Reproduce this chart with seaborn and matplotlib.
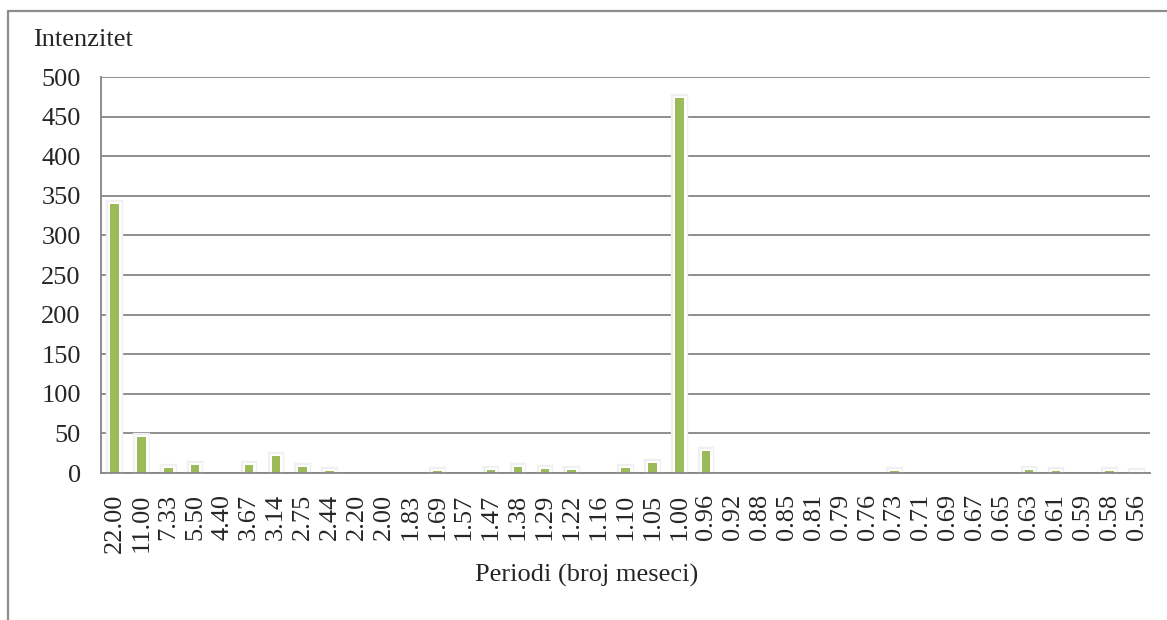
import matplotlib
matplotlib.use("Agg")
import matplotlib.pyplot as plt
import matplotlib.patheffects as pe
from matplotlib.lines import Line2D
import numpy as np
import pandas as pd
import seaborn as sns

periods = ["22.00", "11.00", "7.33", "5.50", "4.40", "3.67", "3.14", "2.75", "2.44",
           "2.20", "2.00", "1.83", "1.69", "1.57", "1.47", "1.38", "1.29", "1.22",
           "1.16", "1.10", "1.05", "1.00", "0.96", "0.92", "0.88", "0.85", "0.81",
           "0.79", "0.76", "0.73", "0.71", "0.69", "0.67", "0.65", "0.63", "0.61",
           "0.59", "0.58", "0.56"]
intensity = [340, 46, 6, 10, 0, 10.5, 21.5, 7, 2.5,
             0, 0, 0, 2, 0, 4, 7, 4.5, 4,
             0, 6, 12, 474, 28, 0, 0.3, 0.3, 0,
             0, 0.5, 2, 0, 0, 0, 0.3, 3.5, 2,
             0, 2, 1.5]
y_ticks = [0, 50, 100, 150, 200, 250, 300, 350, 400, 450, 500]

sns.set_style("white")
plt.rcParams["font.family"] = ["Liberation Serif", "DejaVu Serif"]
GRAY = "#868686"
GREEN = "#9BBB59"

df = pd.DataFrame({"period": periods, "value": intensity})

fig = plt.figure(figsize=(11.67, 6.2), dpi=100)
ax = fig.add_axes([101 / 1167, 1 - 473 / 620, 1049 / 1167, 396 / 620])

sns.barplot(data=df, x="period", y="value", order=periods, color=GREEN,
            saturation=1, width=0.32, edgecolor="none", linewidth=0, ax=ax, zorder=2)
# soft white glow around the visible bars (Excel style)
for p in ax.patches:
    if p.get_height() >= 1:
        p.set_path_effects([pe.Stroke(linewidth=6, foreground="#F0F0F0"),
                            pe.Stroke(linewidth=3.5, foreground="white"),
                            pe.Normal()])

ax.set_ylim(0, 500)
ax.set_xlim(-0.5, len(periods) - 0.5)
ax.set_yticks(y_ticks)
ax.set_axisbelow(True)
ax.yaxis.grid(True, color=GRAY, linewidth=1.3)
ax.set_xticks(np.arange(-0.5, len(periods), 1), minor=True)
ax.tick_params(axis="x", which="major", length=0, pad=15, labelsize=19, rotation=90)
ax.tick_params(axis="x", which="minor", length=4.5, width=1.3, color=GRAY, direction="out")
ax.tick_params(axis="y", length=4.5, width=1.3, color=GRAY, direction="out", pad=10, labelsize=19)
ax.set_xlabel("")
ax.set_ylabel("")
for s in ["top", "right"]:
    ax.spines[s].set_visible(False)
for s in ["left", "bottom"]:
    ax.spines[s].set_color(GRAY)
    ax.spines[s].set_linewidth(1.3)
    ax.spines[s].set_zorder(3)

fig.text(33 / 1167, 1 - 40 / 620, "Intenzitet", fontsize=19, va="center", ha="left")
fig.text(587 / 1167, 1 - 575 / 620, "Periodi (broj meseci)", fontsize=19, va="center", ha="center")

# outer chart border (top and left only visible)
fig.add_artist(Line2D([8 / 1167, 8 / 1167], [0, 1 - 11 / 620], color="#8C8C8C", linewidth=1.6))
fig.add_artist(Line2D([8 / 1167, 1], [1 - 11 / 620, 1 - 11 / 620], color="#8C8C8C", linewidth=1.6))

fig.savefig("out.png", dpi=100)
